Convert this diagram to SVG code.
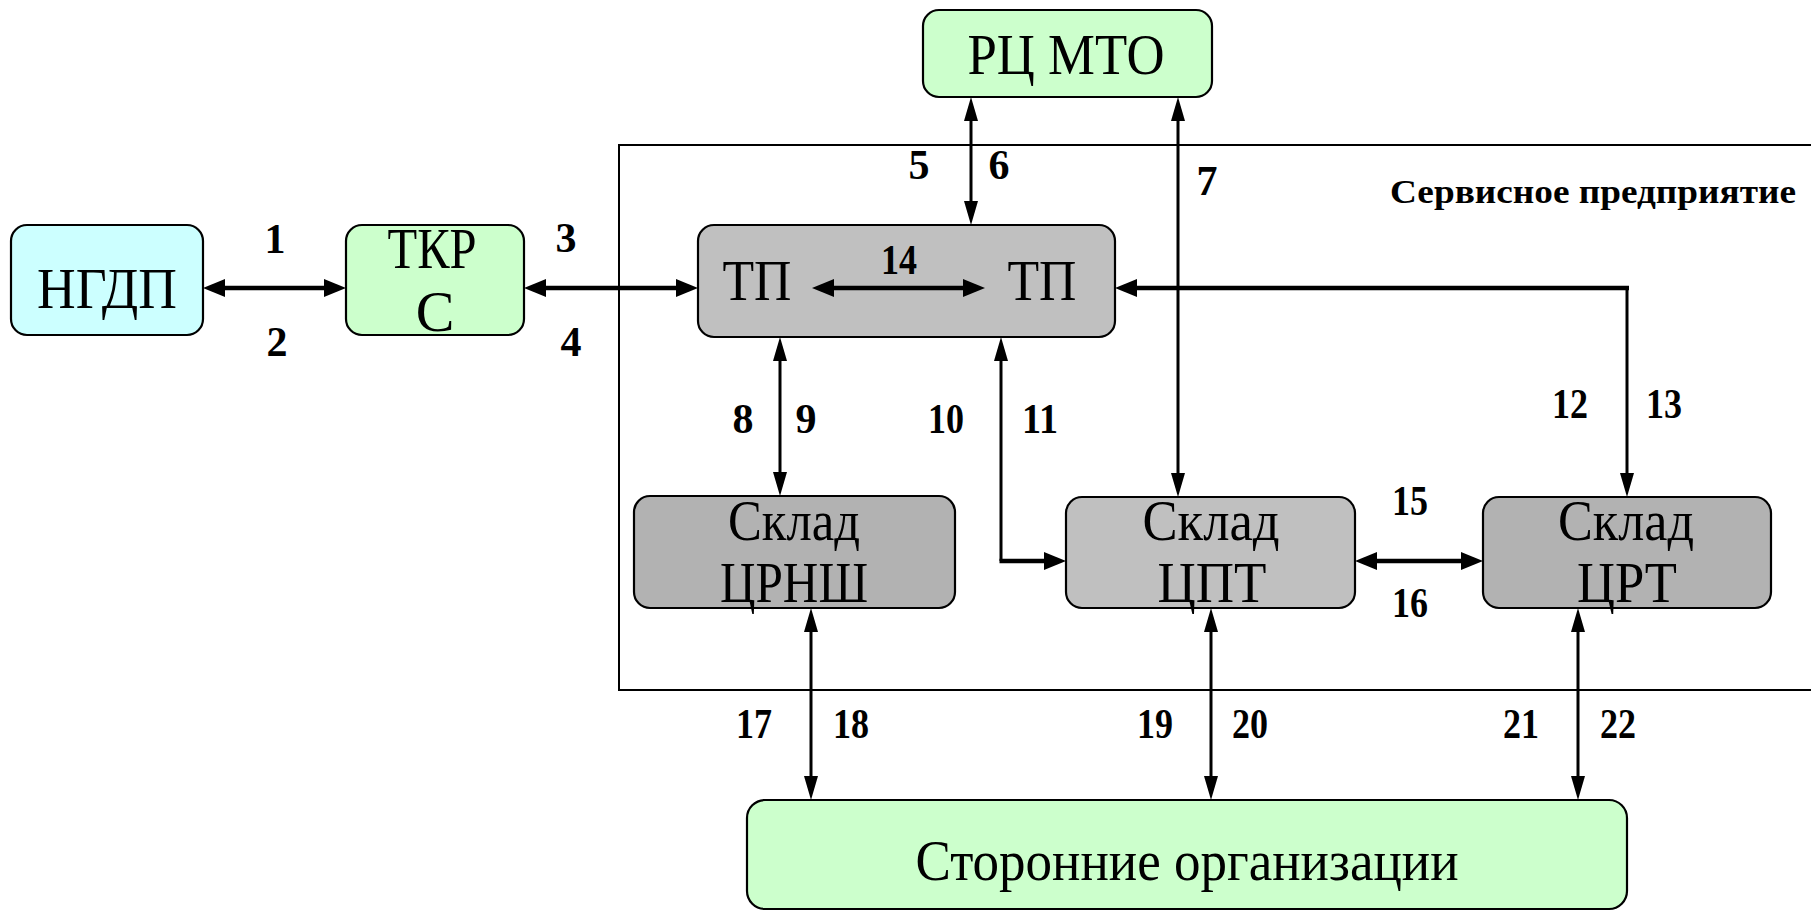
<svg xmlns="http://www.w3.org/2000/svg" width="1811" height="911" viewBox="0 0 1811 911">
<style>
.node{stroke:#000;stroke-width:2.2}
.cyan{fill:#CCFFFF}
.green{fill:#CCFFCC}
.gray{fill:#C0C0C0}
.dgray{fill:#B2B2B2}
.t{font-family:'Liberation Serif','DejaVu Serif',serif;font-size:58px;fill:#000;text-anchor:middle}
.lbl{font-family:'Liberation Serif','DejaVu Serif',serif;font-size:42px;font-weight:700;fill:#000;text-anchor:middle}
.thick{stroke:#000;stroke-width:4.5;fill:none}
.thin{stroke:#000;stroke-width:3;fill:none}
</style>
<defs>
<marker id="ab" markerUnits="userSpaceOnUse" markerWidth="22" markerHeight="18" refX="0" refY="9" orient="auto-start-reverse"><path d="M0,0 L22,9 L0,18 z" fill="#000"/></marker>
<marker id="as" markerUnits="userSpaceOnUse" markerWidth="24" markerHeight="14" refX="0" refY="7" orient="auto-start-reverse"><path d="M0,0 L24,7 L0,14 z" fill="#000"/></marker>
</defs>
<rect width="1811" height="911" fill="#fff"/>
<g id="frame">
<rect x="619" y="145" width="1300" height="545" fill="none" stroke="#000" stroke-width="2"/>
<text x="1593" y="203" font-family="Liberation Serif, DejaVu Serif, serif" font-size="34" font-weight="700" text-anchor="middle" textLength="406" lengthAdjust="spacingAndGlyphs">Сервисное предприятие</text>
</g>
<g id="n-ngdp"><rect class="node cyan" x="11" y="225" width="192" height="110" rx="16"/><text class="t" x="107" y="308" textLength="140" lengthAdjust="spacingAndGlyphs">НГДП</text></g>
<g id="n-tkrs"><rect class="node green" x="346" y="225" width="178" height="110" rx="16"/><text class="t" x="432" y="268" textLength="89" lengthAdjust="spacingAndGlyphs">ТКР</text><text class="t" x="435" y="331">С</text></g>
<g id="n-rcmto"><rect class="node green" x="923" y="10" width="289" height="87" rx="16"/><text class="t" x="1066" y="74" textLength="197" lengthAdjust="spacingAndGlyphs">РЦ МТО</text></g>
<g id="n-tp"><rect class="node gray" x="698" y="225" width="417" height="112" rx="16"/><text class="t" x="757" y="300" textLength="69" lengthAdjust="spacingAndGlyphs">ТП</text><text class="t" x="1042" y="300" textLength="69" lengthAdjust="spacingAndGlyphs">ТП</text></g>
<g id="n-crnsh"><rect class="node dgray" x="634" y="496" width="321" height="112" rx="16"/><text class="t" x="794" y="540" textLength="132" lengthAdjust="spacingAndGlyphs">Склад</text><text class="t" x="794" y="602" textLength="148" lengthAdjust="spacingAndGlyphs">ЦРНШ</text></g>
<g id="n-cpt"><rect class="node gray" x="1066" y="497" width="289" height="111" rx="16"/><text class="t" x="1211" y="540" textLength="137" lengthAdjust="spacingAndGlyphs">Склад</text><text class="t" x="1212" y="602" textLength="109" lengthAdjust="spacingAndGlyphs">ЦПТ</text></g>
<g id="n-crt"><rect class="node dgray" x="1483" y="497" width="288" height="111" rx="16"/><text class="t" x="1626" y="540" textLength="136" lengthAdjust="spacingAndGlyphs">Склад</text><text class="t" x="1627" y="602" textLength="100" lengthAdjust="spacingAndGlyphs">ЦРТ</text></g>
<g id="n-storon"><rect class="node green" x="747" y="800" width="880" height="109" rx="18"/><text class="t" x="1187" y="880" textLength="543" lengthAdjust="spacingAndGlyphs">Сторонние организации</text></g>
<g id="connectors">
<path class="thick" d="M225,288 H324" marker-start="url(#ab)" marker-end="url(#ab)"/>
<path class="thick" d="M546,288 H676" marker-start="url(#ab)" marker-end="url(#ab)"/>
<path class="thick" d="M834,288 H963" marker-start="url(#ab)" marker-end="url(#ab)"/>
<path class="thin" d="M971,121 V201" marker-start="url(#as)" marker-end="url(#as)"/>
<path class="thin" d="M1178,121 V473" marker-start="url(#as)" marker-end="url(#as)"/>
<path class="thick" d="M1137,288 H1629" marker-start="url(#ab)"/>
<path class="thin" d="M1627,286 V473" marker-end="url(#as)"/>
<path class="thin" d="M780,361 V472" marker-start="url(#as)" marker-end="url(#as)"/>
<path class="thin" d="M1001,361 V561" marker-start="url(#as)"/>
<path class="thick" d="M999.5,561 H1044" marker-end="url(#ab)"/>
<path class="thick" d="M1377,561 H1461" marker-start="url(#ab)" marker-end="url(#ab)"/>
<path class="thin" d="M811,632 V776" marker-start="url(#as)" marker-end="url(#as)"/>
<path class="thin" d="M1211,632 V776" marker-start="url(#as)" marker-end="url(#as)"/>
<path class="thin" d="M1578,632 V776" marker-start="url(#as)" marker-end="url(#as)"/>
</g>
<g id="labels">
<text class="lbl" x="275" y="253">1</text>
<text class="lbl" x="277" y="356">2</text>
<text class="lbl" x="566" y="252">3</text>
<text class="lbl" x="571" y="356">4</text>
<text class="lbl" x="919" y="179">5</text>
<text class="lbl" x="999" y="179">6</text>
<text class="lbl" x="1207" y="195">7</text>
<text class="lbl" x="743" y="433">8</text>
<text class="lbl" x="806" y="433">9</text>
<text class="lbl" x="946" y="433" textLength="36" lengthAdjust="spacingAndGlyphs">10</text>
<text class="lbl" x="1040" y="433" textLength="36" lengthAdjust="spacingAndGlyphs">11</text>
<text class="lbl" x="1570" y="418" textLength="36" lengthAdjust="spacingAndGlyphs">12</text>
<text class="lbl" x="1664" y="418" textLength="36" lengthAdjust="spacingAndGlyphs">13</text>
<text class="lbl" x="899" y="274" textLength="36" lengthAdjust="spacingAndGlyphs">14</text>
<text class="lbl" x="1410" y="515" textLength="36" lengthAdjust="spacingAndGlyphs">15</text>
<text class="lbl" x="1410" y="617" textLength="36" lengthAdjust="spacingAndGlyphs">16</text>
<text class="lbl" x="754" y="738" textLength="36" lengthAdjust="spacingAndGlyphs">17</text>
<text class="lbl" x="851" y="738" textLength="36" lengthAdjust="spacingAndGlyphs">18</text>
<text class="lbl" x="1155" y="738" textLength="36" lengthAdjust="spacingAndGlyphs">19</text>
<text class="lbl" x="1250" y="738" textLength="36" lengthAdjust="spacingAndGlyphs">20</text>
<text class="lbl" x="1521" y="738" textLength="36" lengthAdjust="spacingAndGlyphs">21</text>
<text class="lbl" x="1618" y="738" textLength="36" lengthAdjust="spacingAndGlyphs">22</text>
</g>
</svg>
